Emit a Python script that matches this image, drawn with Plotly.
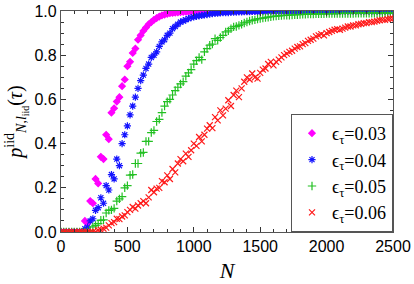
import plotly.graph_objects as go

N = list(range(0, 2501, 20))

# epsilon_tau = 0.03
p03_head = [0.0] * 9 + [
    0.05, 0.04, 0.14, 0.13, 0.24, 0.22, 0.34, 0.33, 0.44, 0.42,
    0.54, 0.56, 0.59, 0.61, 0.66, 0.69, 0.75, 0.77, 0.81, 0.83,
    0.87, 0.89, 0.91, 0.925, 0.94, 0.95, 0.96, 0.968, 0.975, 0.98,
    0.984, 0.987, 0.99, 0.991, 0.993, 0.994, 0.995, 0.996, 0.997, 0.997,
    0.998, 0.998, 0.998, 0.999, 0.999, 0.999, 0.999, 0.999, 1.0, 1.0]
p03 = p03_head + [1.0] * (len(N) - len(p03_head))

# epsilon_tau = 0.04
p04_head = [0.0] * 9 + [
    0.015, 0.022, 0.05, 0.06, 0.098, 0.11, 0.155, 0.13, 0.21, 0.19,
    0.26, 0.24, 0.33, 0.30, 0.40, 0.44, 0.48, 0.53, 0.57, 0.61,
    0.65, 0.685, 0.71, 0.74, 0.76, 0.79, 0.80, 0.815, 0.84, 0.86,
    0.87, 0.89, 0.90, 0.92, 0.93, 0.94, 0.95, 0.955, 0.96, 0.966,
    0.97, 0.973, 0.976, 0.978, 0.98, 0.982, 0.984, 0.986, 0.988, 0.989,
    0.99, 0.991, 0.992, 0.993, 0.993, 0.994, 0.995, 0.995, 0.996, 0.996,
    0.997, 0.997, 0.997, 0.998, 0.998, 0.998, 0.998, 0.999, 0.999, 0.999]
p04 = p04_head + [0.999] * (len(N) - len(p04_head))

# epsilon_tau = 0.05
p05_head = [0.0] * 11 + [
    0.005, 0.023, 0.03, 0.038, 0.053, 0.055, 0.086, 0.098, 0.10, 0.107,
    0.14, 0.15, 0.16, 0.20, 0.21, 0.257, 0.26, 0.31, 0.31, 0.357,
    0.36, 0.41, 0.41, 0.45, 0.46, 0.50, 0.51, 0.54, 0.57, 0.59,
    0.60, 0.62, 0.64, 0.655, 0.67, 0.68, 0.705, 0.72, 0.735, 0.76,
    0.775, 0.79, 0.78, 0.815, 0.83, 0.845, 0.85, 0.875, 0.867, 0.88,
    0.89, 0.905, 0.91, 0.92, 0.928, 0.93, 0.935, 0.94, 0.946, 0.95,
    0.955, 0.958, 0.96, 0.964, 0.966, 0.968, 0.97, 0.972, 0.974, 0.976,
    0.977, 0.978, 0.979, 0.98, 0.98, 0.981, 0.982, 0.983, 0.983, 0.984,
    0.985, 0.985, 0.986, 0.986, 0.986, 0.987, 0.987, 0.987, 0.987, 0.988,
    0.988, 0.988, 0.988, 0.988, 0.989, 0.989, 0.989, 0.989, 0.989, 0.989]
p05 = p05_head + [0.99] * (len(N) - len(p05_head))

# epsilon_tau = 0.06
p06 = [0.0] * 14 + [
    0.008, 0.01, 0.015, 0.02, 0.03, 0.04, 0.045, 0.06, 0.058, 0.07,
    0.075, 0.09, 0.10, 0.113, 0.106, 0.12, 0.13, 0.14, 0.13, 0.157,
    0.19, 0.18, 0.196, 0.20, 0.23, 0.225, 0.256, 0.24, 0.285, 0.27,
    0.31, 0.33, 0.32, 0.355, 0.34, 0.37, 0.40, 0.39, 0.43, 0.41,
    0.44, 0.468, 0.483, 0.47, 0.52, 0.505, 0.55, 0.528, 0.558, 0.596,
    0.57, 0.62, 0.64, 0.61, 0.65, 0.68, 0.70, 0.69, 0.717, 0.70,
    0.694, 0.72, 0.735, 0.74, 0.76, 0.77, 0.754, 0.77, 0.78, 0.79,
    0.80, 0.807, 0.815, 0.82, 0.83, 0.837, 0.84, 0.85, 0.855, 0.865,
    0.87, 0.875, 0.885, 0.89, 0.895, 0.89, 0.90, 0.905, 0.91, 0.915,
    0.918, 0.915, 0.92, 0.925, 0.93, 0.93, 0.935, 0.935, 0.94, 0.942,
    0.945, 0.945, 0.95, 0.95, 0.952, 0.955, 0.958, 0.96, 0.96, 0.963,
    0.966, 0.966]

series = [
    ("ϵ<sub>τ</sub>=0.03", p03, "#ff00ff", "diamond", 5),
    ("ϵ<sub>τ</sub>=0.04", p04, "#1515ff", "asterisk-open", 6),
    ("ϵ<sub>τ</sub>=0.05", p05, "#22c022", "cross-thin-open", 6),
    ("ϵ<sub>τ</sub>=0.06", p06, "#ff1a1a", "x-thin-open", 6),
]

fig = go.Figure()
for name, vals, col, sym, sz in series:
    fig.add_trace(go.Scatter(
        x=N[:len(vals)], y=vals, mode="markers", name=name,
        marker=dict(symbol=sym, size=sz, color=col,
                    line=dict(color=col, width=1.2)),
    ))

axis_common = dict(
    showgrid=False, zeroline=False, showline=True, linecolor="#555555",
    linewidth=1.2, mirror="allticks", ticks="inside", ticklen=5,
    tickcolor="#333333", automargin=False,
    tickfont=dict(family="Liberation Sans, Arial", size=16, color="black"),
)

fig.update_xaxes(
    range=[0, 2500], tickvals=[0, 500, 1000, 1500, 2000, 2500],
    minor=dict(ticks="inside", dtick=100, ticklen=3, tickcolor="#333333"),
    title=dict(text="<i>N</i>", font=dict(family="Liberation Serif, serif", size=22, color="black"), standoff=8),
    **axis_common)
fig.update_yaxes(
    range=[0, 1.0], tickvals=[0, 0.2, 0.4, 0.6, 0.8, 1.0],
    ticktext=["0.0", "0.2", "0.4", "0.6", "0.8", "1.0"],
    minor=dict(ticks="inside", dtick=0.05, ticklen=3, tickcolor="#333333"),
    title=dict(text="<i>p</i><sup>iid</sup><sub><i>N</i>,<i>l</i><sub>iid</sub></sub>(<i>τ</i>)",
               font=dict(family="Liberation Serif, serif", size=20, color="black"), standoff=6),
    **axis_common)

fig.update_layout(
    width=414, height=284,
    margin=dict(l=61, r=21, t=11, b=52),
    plot_bgcolor="white", paper_bgcolor="white",
    showlegend=True,
    legend=dict(x=1, y=0, xanchor="right", yanchor="bottom",
                bgcolor="white", bordercolor="#555555", borderwidth=1,
                font=dict(family="Liberation Serif, serif", size=18, color="black"),
                itemwidth=30, tracegroupgap=0),
)

fig.write_html("out.html", config={"displayModeBar": False},
               post_script="document.body.style.margin='0';document.body.style.overflow='hidden';")
